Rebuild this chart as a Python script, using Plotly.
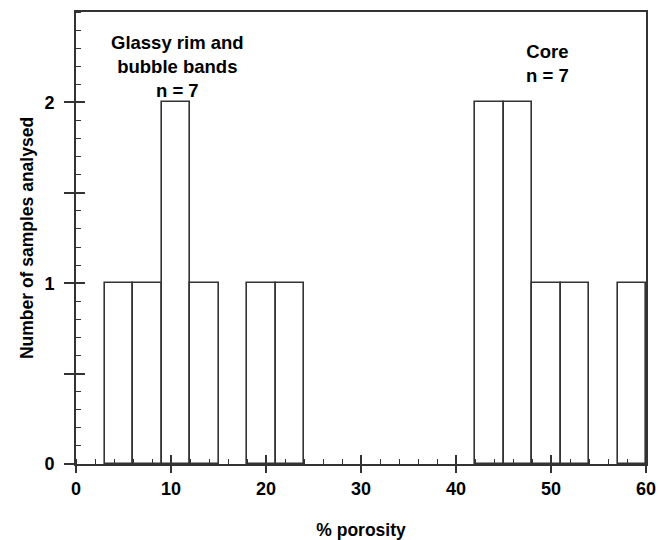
import plotly.graph_objects as go

# Histogram bins (left edge, % porosity) and counts
bin_left = [3, 6, 9, 12, 18, 21, 42, 45, 48, 51, 57]
counts = [1, 1, 2, 1, 1, 1, 2, 2, 1, 1, 1]
bin_width = 3

x_ticks = [0, 10, 20, 30, 40, 50, 60]
y_ticks = [0, 0.5, 1, 1.5, 2]
y_ticktext = ["0", "", "1", "", "2"]

group_labels = ["Glassy rim and<br>bubble bands<br>n = 7", "Core<br>n = 7"]
group_x = [10.7, 49.6]
group_y = [2.40, 2.35]

FONT = "Liberation Sans, Arial, sans-serif"
LINE = "#333333"

fig = go.Figure()
fig.add_trace(go.Bar(
    x=bin_left, y=counts, width=bin_width, offset=0,
    marker=dict(color="white", line=dict(color=LINE, width=1.6)),
    showlegend=False, hoverinfo="skip",
))
# invisible trace to carry the overlay axes (inner half of major ticks)
fig.add_trace(go.Scatter(x=[0], y=[0], xaxis="x2", yaxis="y2",
                         mode="markers", marker=dict(opacity=0),
                         showlegend=False, hoverinfo="skip"))

tickfont = dict(family=FONT, size=18, color="black", weight="bold")
titlefont = dict(family=FONT, size=17.5, color="black", weight="bold")

fig.update_layout(
    width=666, height=540,
    margin=dict(l=76, r=20, t=12, b=76),
    paper_bgcolor="white", plot_bgcolor="white",
    bargap=0,
    xaxis=dict(
        range=[0, 60], tickmode="array", tickvals=x_ticks,
        ticks="outside", ticklen=7, tickwidth=1.6, tickcolor=LINE,
        minor=dict(tickmode="linear", tick0=0, dtick=2, ticks="inside",
                   ticklen=5, tickwidth=1.4, tickcolor=LINE, showgrid=False),
        showline=True, linecolor=LINE, linewidth=2, mirror=True,
        showgrid=False, zeroline=False, automargin=False,
        tickfont=tickfont, ticklabelstandoff=0,
        title=dict(text="% porosity", standoff=26, font=titlefont),
    ),
    yaxis=dict(
        range=[0, 2.5], tickmode="array", tickvals=y_ticks, ticktext=y_ticktext,
        ticks="outside", ticklen=10, tickwidth=1.6, tickcolor=LINE,
        minor=dict(tickmode="linear", tick0=0, dtick=0.1, ticks="inside",
                   ticklen=5, tickwidth=1.4, tickcolor=LINE, showgrid=False),
        showline=True, linecolor=LINE, linewidth=2, mirror=True,
        showgrid=False, zeroline=False, automargin=False,
        tickfont=tickfont, ticklabelstandoff=6,
        title=dict(text="Number of samples analysed", standoff=6, font=titlefont),
    ),
    xaxis2=dict(
        overlaying="x", anchor="y2", range=[0, 60], tickmode="array",
        tickvals=x_ticks, ticks="inside", ticklen=9, tickwidth=1.6,
        tickcolor=LINE, showticklabels=False, showline=False,
        showgrid=False, zeroline=False,
    ),
    yaxis2=dict(
        overlaying="y", anchor="x2", range=[0, 2.5], tickmode="array",
        tickvals=y_ticks, ticks="inside", ticklen=9, tickwidth=1.6,
        tickcolor=LINE, showticklabels=False, showline=False,
        showgrid=False, zeroline=False,
    ),
)

for txt, gx, gy in zip(group_labels, group_x, group_y):
    fig.add_annotation(
        x=gx, y=gy, xref="x", yref="y", text=txt, showarrow=False,
        xanchor="center", yanchor="top", align="center",
        font=dict(family=FONT, size=18.5, color="black", weight="bold"),
    )

fig.write_html("out.html")
